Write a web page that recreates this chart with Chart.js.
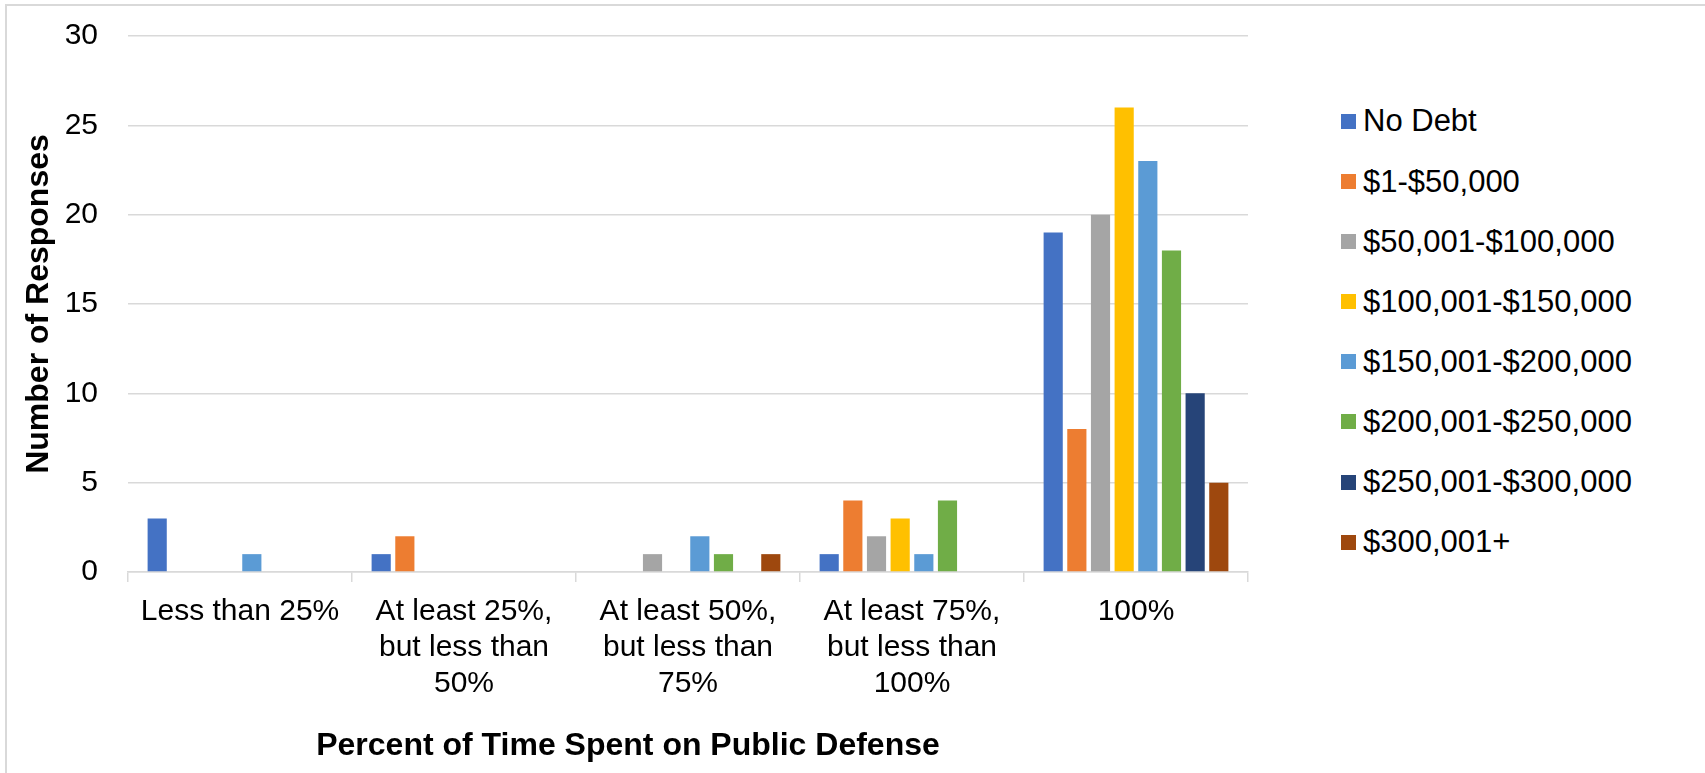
<!DOCTYPE html>
<html>
<head>
<meta charset="utf-8">
<script src="https://cdn.jsdelivr.net/npm/chart.js@4"></script>
<style>
  html, body { margin: 0; padding: 0; background: #fff; overflow: hidden; }
  #frame {
    position: absolute; left: 5px; top: 4px; width: 1720px; height: 800px;
    border-top: 2px solid #d9d9d9; border-left: 2px solid #d9d9d9;
  }
  #wrap { position: absolute; left: 8px; top: 7px; width: 1246px; height: 766px; }
  #legend { position: absolute; left: 1341px; top: 0; }
  .item {
    position: absolute; left: 0; height: 36px; line-height: 36px;
    display: flex; align-items: center; white-space: nowrap;
    font-family: 'Liberation Sans', Arial, sans-serif; font-size: 31px; color: #000;
  }
  .item span.box { display: inline-block; width: 15px; height: 15px; margin-right: 7px; }
</style>
</head>
<body>
<div id="frame"></div>
<div id="wrap"><canvas id="debtChart"></canvas></div>
<div id="legend"></div>
<script>
const categories = [
    'Less than 25%',
    ['At least 25%,', 'but less than', '50%'],
    ['At least 50%,', 'but less than', '75%'],
    ['At least 75%,', 'but less than', '100%'],
    '100%'
];

const seriesNames = [
    'No Debt', '$1-$50,000', '$50,001-$100,000', '$100,001-$150,000',
    '$150,001-$200,000', '$200,001-$250,000', '$250,001-$300,000', '$300,001+'
];

const noDebt       = [3, 1, 0, 1, 19];
const debt1to50    = [0, 2, 0, 4, 8];
const debt50to100  = [0, 0, 1, 2, 20];
const debt100to150 = [0, 0, 0, 3, 26];
const debt150to200 = [1, 0, 2, 1, 23];
const debt200to250 = [0, 0, 1, 4, 18];
const debt250to300 = [0, 0, 0, 0, 10];
const debt300plus  = [0, 0, 1, 0, 5];

const yTicks = [0, 5, 10, 15, 20, 25, 30];

const colors = ['#4472C4', '#ED7D31', '#A5A5A5', '#FFC000', '#5B9BD5', '#70AD47', '#264478', '#9E480E'];
const series = [noDebt, debt1to50, debt50to100, debt100to150, debt150to200, debt200to250, debt250to300, debt300plus];

const gridColor = '#d9d9d9';
const font = "'Liberation Sans', Arial, sans-serif";

// legend built from the same series names / colours
let legendBox = document.getElementById('legend');
seriesNames.forEach((name, i) => {
    let row = document.createElement('div');
    row.className = 'item';
    row.style.top = (121.4 + 60.1 * i - 18) + 'px';
    row.innerHTML = '<span class="box" style="background:' + colors[i] + '"></span>';
    row.appendChild(document.createTextNode(name));
    legendBox.appendChild(row);
});

const ctx = document.getElementById('debtChart').getContext('2d');

let myChart = new Chart(ctx, {
    type: 'bar',
    data: {
        labels: categories,
        datasets: series.map((d, i) => ({
            label: seriesNames[i],
            data: d,
            backgroundColor: colors[i],
            borderWidth: 0,
            categoryPercentage: 0.845,
            barPercentage: 0.81
        }))
    },
    options: {
        responsive: true,
        maintainAspectRatio: false,
        animation: false,
        layout: { padding: { top: 29, left: 0, right: 6, bottom: 0 } },
        plugins: {
            tooltip: { enabled: false },
            legend: { display: false },
            title: {
                display: true, position: 'bottom',
                text: 'Percent of Time Spent on Public Defense',
                color: '#000', padding: { top: 0, bottom: 8 },
                font: { family: font, size: 32, weight: 'bold', lineHeight: 1.2 }
            }
        },
        scales: {
            x: {
                grid: {
                    display: true, drawOnChartArea: false, drawTicks: true,
                    tickLength: 10, offset: true, color: gridColor, lineWidth: 1.5
                },
                border: { display: true, color: gridColor, width: 1.5 },
                ticks: {
                    autoSkip: false, maxRotation: 0, minRotation: 0, padding: 12,
                    color: '#000', font: { family: font, size: 30, lineHeight: 1.2 }
                },
                afterFit(scale) { scale.height = 154.6; }
            },
            y: {
                min: 0, max: 30,
                afterBuildTicks(scale) { scale.ticks = yTicks.map(v => ({ value: v })); },
                // invisible tick marks keep the labels away from the plot
                grid: { color: gridColor, lineWidth: 1.5, drawTicks: true, tickLength: 28, tickColor: 'rgba(0,0,0,0)' },
                border: { display: false },
                ticks: { padding: 2, color: '#000', font: { family: font, size: 30 } },
                title: {
                    display: true, text: 'Number of Responses',
                    color: '#000', padding: { top: 12, bottom: 0 },
                    font: { family: font, size: 32, weight: 'bold', lineHeight: 1.2 }
                },
                afterFit(scale) { scale.width = 120; }
            }
        }
    }
});
</script>
</body>
</html>
